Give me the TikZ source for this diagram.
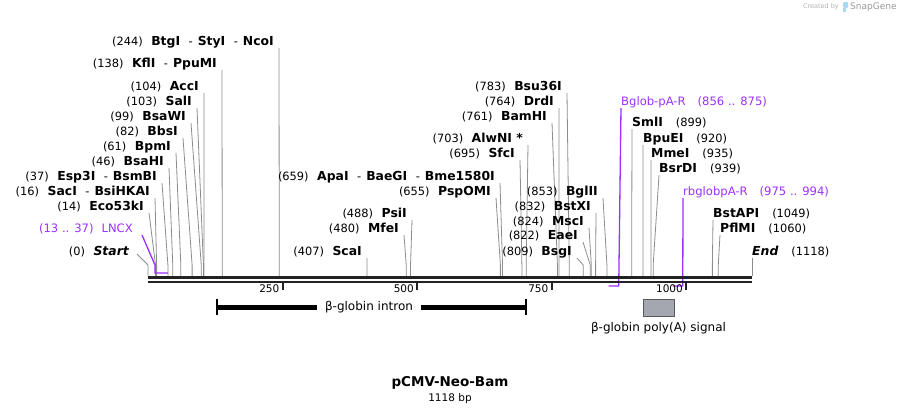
\documentclass[tikz,border=0pt]{standalone}
\usepackage{fontspec}
\setmainfont{DejaVu Sans}
\usepackage{tikz}
\usetikzlibrary{calc,positioning}
\definecolor{primer}{HTML}{9B30FF}
\definecolor{leadgray}{HTML}{8C8C8C}
\definecolor{bbone}{HTML}{222222}
\definecolor{polyfill}{HTML}{A4A8AE}
\definecolor{polydraw}{HTML}{55595E}
\definecolor{sgblue}{HTML}{A8D8F2}
\newcommand{\bpx}[1]{148+0.538*#1}
\newcommand{\bpn}[1]{{\fontsize{11.4}{13}\selectfont(#1)}}
\newcommand{\nm}[1]{{\bfseries\fontsize{12.4}{14}\selectfont#1}}
\newcommand{\sepd}{\hspace{8.5pt}-\hspace{5pt}}
\newcommand{\gpl}{\hspace{8.5pt}}
\newcommand{\gpr}{\hspace{13pt}}
\tikzset{
  cutlbl/.style={inner sep=0pt, font=\fontsize{11.4}{13}\selectfont},
  primerlbl/.style={inner sep=0pt, text=primer, font=\fontsize{11.6}{13}\selectfont},
  featlbl/.style={inner sep=0pt, font=\fontsize{12}{14}\selectfont},
  leader/.style={draw=leadgray, line width=0.8pt},
  primerline/.style={draw=primer, line width=1.3pt},
  bbline/.style={draw=bbone, line width=3pt},
}
\begin{document}
\begin{tikzpicture}[x=1pt,y=-1pt]
\useasboundingbox (0,0) rectangle (900,415);
\foreach \bp/\xl/\yc/\txt in {
  244/279/42/{\nm{BtgI}\sepd\nm{StyI}\sepd\nm{NcoI}},
  138/222/64/{\nm{KflI}\sepd\nm{PpuMI}},
  104/204/87/{\nm{AccI}},
  103/197/102/{\nm{SalI}},
  99/191/117/{\nm{BsaWI}},
  82/183/132/{\nm{BbsI}},
  61/176/147/{\nm{BpmI}},
  46/169/162/{\nm{BsaHI}},
  37/162/177/{\nm{Esp3I}\sepd\nm{BsmBI}},
  16/155/192/{\nm{SacI}\sepd\nm{BsiHKAI}},
  14/149/207/{\nm{Eco53kI}},
  407/367/252/{\nm{ScaI}},
  480/404/229/{\nm{MfeI}},
  488/412/214/{\nm{PsiI}},
  655/496/192/{\nm{PspOMI}},
  659/500/177/{\nm{ApaI}\sepd\nm{BaeGI}\sepd\nm{Bme1580I}},
  695/520/154/{\nm{SfcI}},
  703/528/139/{\nm{AlwNI *}},
  761/552/117/{\nm{BamHI}},
  764/559/102/{\nm{DrdI}},
  783/567/87/{\nm{Bsu36I}},
  809/577/252/{\nm{BsgI}},
  822/583/236/{\nm{EaeI}},
  824/589/222/{\nm{MscI}},
  832/596/207/{\nm{BstXI}},
  853/603/192/{\nm{BglII}}} {
  \coordinate (site\bp) at ({\bpx{\bp}},276);
  \node[cutlbl, anchor=east] (cut\bp) at (\xl-5,\yc) {\bpn{\bp}\gpl\txt};
  \draw[leader] ($(cut\bp.east)+(5,6)$) -- ([yshift=11pt]site\bp) -- (site\bp);
}
\foreach \bp/\xl/\yc/\txt in {
  899/632/123/{SmlI},
  920/643/139/{BpuEI},
  935/651/154/{MmeI},
  939/659/169/{BsrDI},
  1049/713/214/{BstAPI},
  1060/720/229/{PflMI}} {
  \coordinate (site\bp) at ({\bpx{\bp}},276);
  \node[cutlbl, anchor=west] (cut\bp) at (\xl,\yc) {\nm{\txt}\gpr\bpn{\bp}};
  \draw[leader] ($(cut\bp.west)+(0,6)$) -- ([yshift=11pt]site\bp) -- (site\bp);
}
\coordinate (site0) at (148,276);
\node[cutlbl, anchor=east] (start) at (129,252) {\bpn{0}\gpl\nm{\itshape Start}};
\draw[leader] ($(start.east)+(8,2)$) -- ([yshift=11pt]site0) -- (site0);
\coordinate (site1118) at (752,276);
\node[cutlbl, anchor=west] (end) at (752,252) {\nm{\itshape End}\gpr\bpn{1118}};
\draw[leader] ($(end.west)+(0,6)$) -- (site1118);
\node[primerlbl, anchor=east] (lncx) at (133,229) {(13 .. 37)\hspace{8pt}LNCX};
\draw[primerline] ($(lncx.east)+(9,6)$) -- ({\bpx{13}},265) -- ({\bpx{13}},273) -- ({\bpx{37}},273);
\node[primerlbl, anchor=west] (bglob) at (621,102) {Bglob-pA-R\hspace{12pt}(856 .. 875)};
\draw[primerline] ($(bglob.west)+(0,6)$) -- ({\bpx{875}},286) -- ({\bpx{856}},286);
\node[primerlbl, anchor=west] (rbglob) at (683,192) {rbglobpA-R\hspace{12pt}(975 .. 994)};
\draw[primerline] ($(rbglob.west)+(0,6)$) -- ({\bpx{994}},286) -- ({\bpx{975}},286);
\coordinate (bbstart) at (148,277.5);
\coordinate (bbend) at (752,277.5);
\draw[bbline] (bbstart) -- (bbend);
\draw[bbline, line width=2.5pt] ([yshift=-4.5pt]bbstart) -- ([yshift=-4.5pt]bbend);
\foreach \t in {250,500,750,1000} {
  \draw[bbone, line width=2pt] ({\bpx{\t}},283) -- ({\bpx{\t}},290);
  \node[inner sep=0pt, anchor=east, font=\fontsize{10.5}{12}\selectfont] (tick\t) at ({\bpx{\t}-3},289) {\t};
}
\coordinate (intronL) at (217,307);
\coordinate (intronR) at (526,307);
\draw[line width=5pt] (intronL) -- (intronR);
\draw[line width=1.2pt] ([yshift=8pt]intronL) -- ([yshift=-8pt]intronL);
\draw[line width=1.2pt] ([yshift=8pt]intronR) -- ([yshift=-8pt]intronR);
\node[featlbl, fill=white, inner xsep=8pt, inner ysep=3pt] (intron) at (369,307) {β-globin intron};
\node[draw=polydraw, fill=polyfill, minimum width=31pt, minimum height=17pt, inner sep=0pt] (polya) at (658.5,307.5) {};
\node[featlbl, below=6pt of polya] (polyalbl) {β-globin poly(A) signal};
\node[inner sep=0pt, font=\bfseries\fontsize{13.5}{15}\selectfont] (title) at (450,383) {pCMV-Neo-Bam};
\node[inner sep=0pt, font=\fontsize{10.5}{12}\selectfont, below=4pt of title] (size) {1118 bp};
\node[inner sep=0pt, anchor=east, text=black!30, font=\fontsize{6.5}{8}\selectfont] (made) at (839,7) {Created by};
\fill[sgblue, rounded corners=1pt] (843,2) rectangle (848,8);
\fill[sgblue] (843,8) rectangle (845.5,12);
\node[inner sep=0pt, anchor=west, text=black!40, font=\fontsize{9}{10}\selectfont] (sg) at (850,7) {SnapGene};
\end{tikzpicture}
\end{document}
